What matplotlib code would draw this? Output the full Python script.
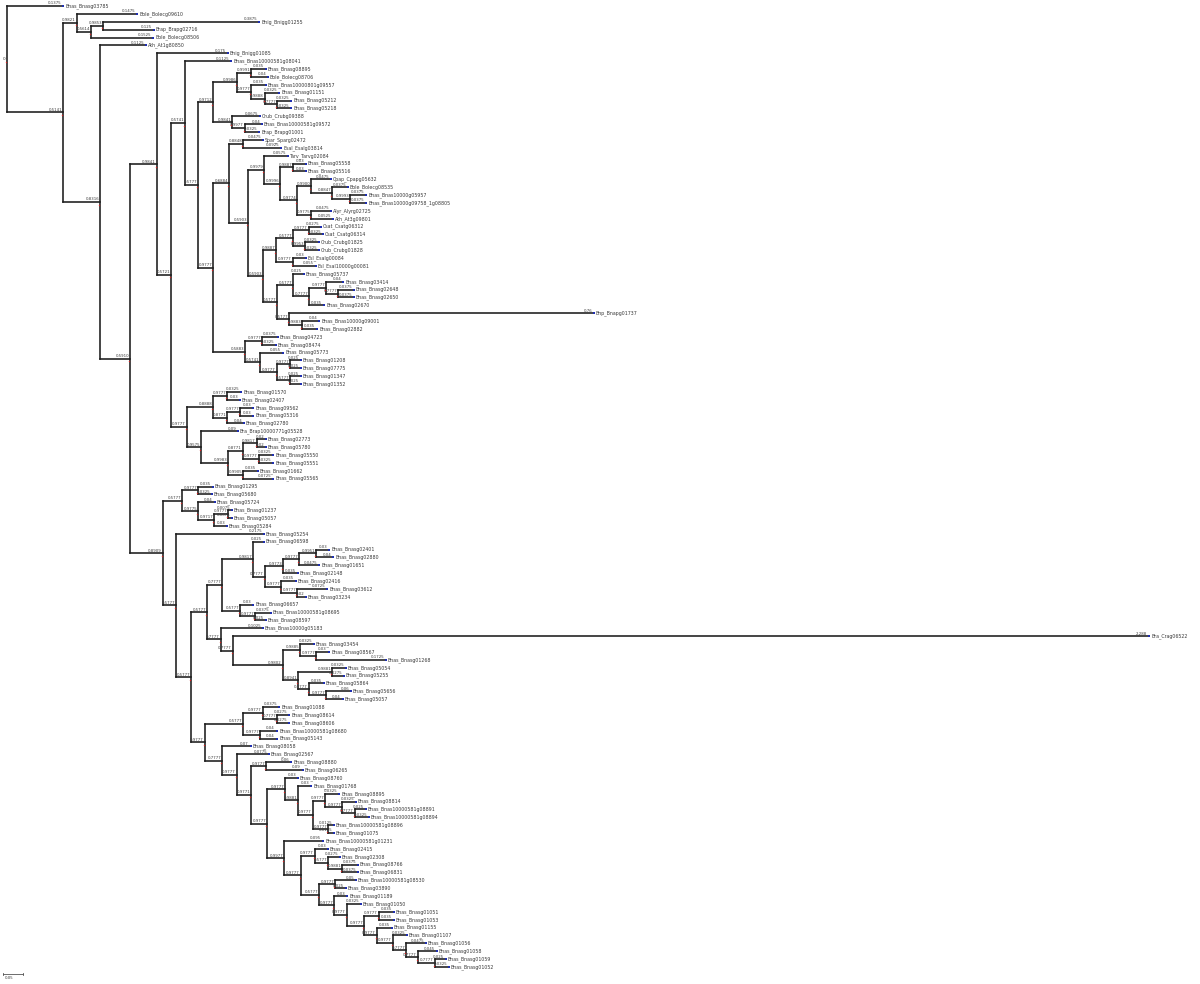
import matplotlib
matplotlib.use("Agg")
import matplotlib.pyplot as plt
from matplotlib.collections import LineCollection

# ---------------- data ----------------
leaf_names = [
    "Bnas_Bnasg03785", "Bole_Bolecg09610", "Bnig_Bnigg01255", "Brap_Brapg02716", "Bole_Bolecg08506",
    "Ath_At1g80850", "Bnig_Bnigg01085", "Bnas_Bnas10000581g08041", "Bnas_Bnasg08895", "Bole_Bolecg08706",
    "Bnas_Bnas10000801g09557", "Bnas_Bnasg01151", "Bnas_Bnasg05212", "Bnas_Bnasg05218", "Crub_Crubg09388",
    "Bnas_Bnas10000581g09572", "Brap_Brapg01001", "Spar_Sparg02472", "Esal_Esalg03814", "Tarv_Tarvg02084",
    "Bnas_Bnasg05558", "Bnas_Bnasg05516", "Cpap_Cpapg05632", "Bole_Bolecg08535", "Bnas_Bnas10000g05957",
    "Bnas_Bnas10000g09758_1g08805", "Alyr_Alyrg02725", "Ath_At3g09801", "Csat_Csatg06312", "Csat_Csatg06314",
    "Crub_Crubg01825", "Crub_Crubg01828", "Esl_Esalg00084", "Esl_Esal10000g00081", "Bnas_Bnasg05737",
    "Bnas_Bnasg03414", "Bnas_Bnasg02648", "Bnas_Bnasg02650", "Bnas_Bnasg02670", "Bnp_Bnapg01737",
    "Bnas_Bnas10000g09001", "Bnas_Bnasg02882", "Bnas_Bnasg04723", "Bnas_Bnasg08474", "Bnas_Bnasg05773",
    "Bnas_Bnasg01208", "Bnas_Bnasg07775", "Bnas_Bnasg01347", "Bnas_Bnasg01352", "Bnas_Bnasg01570",
    "Bnas_Bnasg02407", "Bnas_Bnasg09562", "Bnas_Bnasg05316", "Bnas_Bnasg02780", "Bra_Brap10000771g05528",
    "Bnas_Bnasg02773", "Bnas_Bnasg05780", "Bnas_Bnasg05550", "Bnas_Bnasg05551", "Bnas_Bnasg01662",
    "Bnas_Bnasg05565", "Bnas_Bnasg01295", "Bnas_Bnasg05680", "Bnas_Bnasg05724", "Bnas_Bnasg01237",
    "Bnas_Bnasg05057", "Bnas_Bnasg05284", "Bnas_Bnasg05254", "Bnas_Bnasg06598", "Bnas_Bnasg02401",
    "Bnas_Bnasg02880", "Bnas_Bnasg01651", "Bnas_Bnasg02148", "Bnas_Bnasg02416", "Bnas_Bnasg03612",
    "Bnas_Bnasg03234", "Bnas_Bnasg06657", "Bnas_Bnas10000581g08695", "Bnas_Bnasg08597", "Bnas_Bnas10000g05183",
    "Bra_Crag06522", "Bnas_Bnasg03454", "Bnas_Bnasg08567", "Bnas_Bnasg01268", "Bnas_Bnasg05054",
    "Bnas_Bnasg05255", "Bnas_Bnasg05864", "Bnas_Bnasg05656", "Bnas_Bnasg05057", "Bnas_Bnasg01088",
    "Bnas_Bnasg08614", "Bnas_Bnasg08606", "Bnas_Bnas10000581g08680", "Bnas_Bnasg05143", "Bnas_Bnasg08058",
    "Bnas_Bnasg02567", "Bnas_Bnasg08880", "Bnas_Bnasg06265", "Bnas_Bnasg08760", "Bnas_Bnasg01768",
    "Bnas_Bnasg08895", "Bnas_Bnasg08814", "Bnas_Bnas10000581g08891", "Bnas_Bnas10000581g08894",
    "Bnas_Bnas10000581g08896", "Bnas_Bnasg01075", "Bnas_Bnas10000581g01231", "Bnas_Bnasg02415",
    "Bnas_Bnasg02308", "Bnas_Bnasg08766", "Bnas_Bnasg06831", "Bnas_Bnas10000581g08530", "Bnas_Bnasg03890",
    "Bnas_Bnasg01189", "Bnas_Bnasg01050", "Bnas_Bnasg01051", "Bnas_Bnasg01053", "Bnas_Bnasg01155",
    "Bnas_Bnasg01107", "Bnas_Bnasg01056", "Bnas_Bnasg01058", "Bnas_Bnasg01059", "Bnas_Bnasg01052",
]

# topology with branch lengths (l<i> = leaf i, internal labels = support values)
clade_M = ("(((l9:0.035,l10:0.04)0.9991:0.035,(l11:0.035,(l12:0.0325,(l13:0.0325,l14:0.0325)0.7777:0.03)0.9888:0.035)"
           "0.9777:0.035)0.9986:0.06,(l15:0.0675,(l16:0.04,l17:0.0325)0.9977:0.0325)0.9841:0.0475)0.9712:0.0375")
clade_n264 = ("(l20:0.0575,((l21:0.03,l22:0.03)0.9887:0.0325,((l23:0.0475,(l24:0.0375,(l25:0.0375,l26:0.0375)0.9993:0.045)"
              "0.8847:0.0525)0.9900:0.035,(l27:0.0475,l28:0.0525)0.9775:0.035)0.9774:0.0425)0.9996:0.04)0.9979:0.04")
clade_Z = ("((((l29:0.0275,l30:0.0325)0.9777:0.04,(l31:0.0325,l32:0.0325)0.9953:0.03)0.5777:0.0425,(l33:0.03,l34:0.055)"
           "0.9777:0.0425)0.9887:0.0325,((l35:0.025,((l36:0.04,(l37:0.0375,l38:0.0375)0.7777:0.03)0.9777:0.0425,"
           "l39:0.035)0.7777:0.04)0.5777:0.04,(l40:0.76,(l41:0.04,l42:0.035)0.9883:0.0325)0.5777:0.03)0.5777:0.035)0.5903:0.0375")
clade_N229 = ("((l18:0.0475,l19:0.0925)0.8848:0.035,(" + clade_n264 + "," + clade_Z + ")0.5903:0.0475)0.6884:0.04")
clade_N245 = ("((l43:0.0375,l44:0.0325)0.9777:0.0425,(l45:0.055,((l46:0.025,l47:0.025)0.9777:0.0325,(l48:0.025,"
              "l49:0.025)0.5777:0.0325)0.9777:0.0425)0.5741:0.0375)0.5883:0.08")
clade_N = "(" + clade_N229 + "," + clade_N245 + ")0.9777:0.0375"
clade_K = "(" + clade_M + "," + clade_N + ")0.5777:0.0325"
clade_H = "(l8:0.1125," + clade_K + ")0.5741:0.035"
clade_J = ("(((l50:0.0325,l51:0.03)0.9777:0.035,((l52:0.03,l53:0.03)0.9777:0.0325,l54:0.04)0.8771:0.035)0.8888:0.065,"
           "(l55:0.09,(((l56:0.02,l57:0.02)0.9817:0.035,(l58:0.0325,l59:0.0325)0.9777:0.04)0.8771:0.0375,"
           "(l60:0.035,l61:0.0725)0.9905:0.0375)0.9983:0.0675)0.9575:0.035)0.9777:0.04")
clade_I = "(" + clade_H + "," + clade_J + ")0.5721:0.035"
clade_G = "(l7:0.175," + clade_I + ")0.9841:0.0675"

clade_n182 = ("((l62:0.035,l63:0.0325)0.9777:0.04,(l64:0.04,((l65:0.0075,l66:0.0075)0.9777:0.035,l67:0.03)0.9717:0.04)"
              "0.9775:0.04)0.5777:0.0475")
clade_V = ("(((l69:0.025,((((l70:0.03,l71:0.04)0.9951:0.0425,l72:0.0475)0.9777:0.04,l73:0.035)0.9773:0.045,"
           "(l74:0.035,(l75:0.0725,l76:0.02)0.9777:0.04)0.9777:0.04)0.7777:0.03)0.9817:0.0775,"
           "(l77:0.03,(l78:0.0375,l79:0.025)0.9777:0.0375)0.5777:0.045)0.7777:0.0375,"
           "(l80:0.1025,(l81:2.2875,((l82:0.0325,(l83:0.03,l84:0.1725)0.9777:0.04)0.9885:0.0425,"
           "((l85:0.0325,l86:0.0275)0.9881:0.085,(l87:0.035,(l88:0.06,l89:0.04)0.9777:0.0425)0.9777:0.0275)"
           "0.8941:0.0375)0.9802:0.125)0.7777:0.03)0.7777:0.035)0.5777:0.04")
clade_n285 = ("(l99:0.03,(l100:0.03,((l101:0.0325,(l102:0.0325,(l103:0.025,l104:0.0325)0.7777:0.0325)0.9777:0.0425)"
              "0.9777:0.03,(l105:0.0125,l106:0.0125)0.9777:0.0375)0.9777:0.0375)0.9881:0.0325)0.9777:0.045")
clade_n284 = ("(l107:0.095,((l108:0.03,(l109:0.0275,(l110:0.0375,l111:0.0375)0.9881:0.035)0.5777:0.0325)0.9777:0.035,"
              "((l112:0.05,l113:0.025)0.9777:0.04,(l114:0.03,(l115:0.0325,((l116:0.035,l117:0.035)0.9777:0.0375,"
              "(l118:0.035,(l119:0.0325,(l120:0.0475,(l121:0.045,(l122:0.025,l123:0.0325)0.7777:0.0425)0.7777:0.03)"
              "0.7777:0.0325)0.9777:0.04)0.9777:0.0325)0.9777:0.0425)0.9777:0.0325)0.9777:0.0375)0.5777:0.045)"
              "0.9777:0.0425)0.9977:0.0425")
clade_W = ("(((l90:0.0375,(l91:0.0275,l92:0.0275)0.7777:0.035)0.9777:0.05,(l93:0.04,l94:0.04)0.9777:0.0425)0.5777:0.095,"
           "(l95:0.07,(l96:0.0775,((l97:0.06,l98:0.09)0.9777:0.0375,(" + clade_n285 + "," + clade_n284 + ")0.9777:0.04)"
           "0.9771:0.035)0.9777:0.0375)0.7777:0.0425)0.9777:0.035")
clade_T = ("(" + clade_n182 + ",(l68:0.2175,(" + clade_V + "," + clade_W + ")0.5777:0.0375)0.5777:0.0325)0.8909:0.0825")
tree_newick = ("(l1:0.1375,((l2:0.1475,((l3:0.3875,l4:0.125)0.9853:0.03,l5:0.1525)0.5614:0.035)0.9821:0.035,"
               "(l6:0.1125,(" + clade_G + "," + clade_T + ")0.5910:0.075)0.8316:0.0925)0.5141:0.14)0;")

scale_bar_len = 0.05
scale_bar_label = "0.05"


# ---------------- parse ----------------
def parse_newick(s):
    pos = [0]

    def read_token():
        start = pos[0]
        while pos[0] < len(s) and s[pos[0]] not in "(),:;":
            pos[0] += 1
        return s[start:pos[0]]

    def node():
        n = {"children": [], "label": "", "length": 0.0}
        if s[pos[0]] == "(":
            pos[0] += 1
            while True:
                n["children"].append(node())
                if s[pos[0]] == ",":
                    pos[0] += 1
                    continue
                if s[pos[0]] == ")":
                    pos[0] += 1
                    break
        n["label"] = read_token()
        if pos[0] < len(s) and s[pos[0]] == ":":
            pos[0] += 1
            n["length"] = float(read_token())
        return n

    return node()


root = parse_newick(tree_newick)

leaf_counter = [0]


def layout(n, x0):
    n["x"] = x0 + n["length"]
    if not n["children"]:
        n["y"] = leaf_counter[0]
        leaf_counter[0] += 1
        n["name"] = leaf_names[int(n["label"][1:]) - 1]
    else:
        for c in n["children"]:
            layout(c, n["x"])
        n["y"] = 0.5 * (n["children"][0]["y"] + n["children"][-1]["y"])


root["length"] = 0.0
layout(root, 0.0)
n_leaves = leaf_counter[0]

# pixel geometry
W, H = 1200, 984
X0_PX, PX_PER_UNIT = 7.0, 400.0
Y0_PX, Y_STEP = 6.0, (967.0 - 6.0) / (n_leaves - 1)
dx = 1.0 / PX_PER_UNIT
dy = 1.0 / Y_STEP

fig = plt.figure(figsize=(W / 100, H / 100), dpi=100)
ax = fig.add_axes([0, 0, 1, 1])
ax.set_xlim(-X0_PX / PX_PER_UNIT, (W - X0_PX) / PX_PER_UNIT)
ax.set_ylim((H - Y0_PX) / Y_STEP, -Y0_PX / Y_STEP)
ax.set_autoscale_on(False)
ax.axis("off")

segs = []
leaf_pts = []
node_pts = []
LINE_C = "#1c1c1c"
TXT_C = "#3a3a3a"


def draw(n, parent_x):
    segs.append([(parent_x, n["y"]), (n["x"], n["y"])])
    if n["children"]:
        ys = [c["y"] for c in n["children"]]
        segs.append([(n["x"], min(ys)), (n["x"], max(ys))])
        node_pts.append((n["x"], n["y"]))
        if n is not root:
            ax.text(n["x"] - 1 * dx, n["y"] - 0.6 * dy, n["label"], fontsize=2.8, color=TXT_C,
                    ha="right", va="bottom")
        for c in n["children"]:
            draw(c, n["x"])
    else:
        leaf_pts.append((n["x"], n["y"]))
        ax.text(n["x"] - 1 * dx, n["y"] - 0.6 * dy, f"{n['length']:.4g}", fontsize=2.8, color=TXT_C,
                ha="right", va="bottom")
        ax.text(n["x"] + 3 * dx, n["y"], n["name"], fontsize=3.4, color=TXT_C, ha="left", va="center")


draw(root, 0.0)
ax.add_collection(LineCollection(segs, colors=LINE_C, linewidths=1.15, capstyle="projecting"))

ax.scatter([p[0] + 1.2 * dx for p in leaf_pts], [p[1] for p in leaf_pts], s=1.2, marker="s",
           color="#1f2fb0", linewidths=0, zorder=3)
ax.scatter([p[0] - 1.0 * dx for p in node_pts], [p[1] + 2.5 * dy for p in node_pts], s=1.0, marker="o",
           color="#d02020", linewidths=0, zorder=3)

# root label
ax.text(3 * dx - X0_PX / PX_PER_UNIT, root["y"], root["label"], fontsize=3.0, color=TXT_C,
        ha="left", va="center")

# scale bar
sb_y = (974 - Y0_PX) / Y_STEP
sb_x0 = (3.3 - X0_PX) / PX_PER_UNIT
sb_x1 = sb_x0 + scale_bar_len
ax.plot([sb_x0, sb_x1], [sb_y, sb_y], color="#555555", lw=0.6)
for sx in (sb_x0, sb_x1):
    ax.plot([sx, sx], [sb_y - 1.2 * dy, sb_y + 1.2 * dy], color="#555555", lw=0.6)
ax.text(sb_x0 + 1 * dx, sb_y + 2.0 * dy, scale_bar_label, fontsize=2.8, color=TXT_C, ha="left", va="top")

fig.savefig("out.png", dpi=100, facecolor="white")
